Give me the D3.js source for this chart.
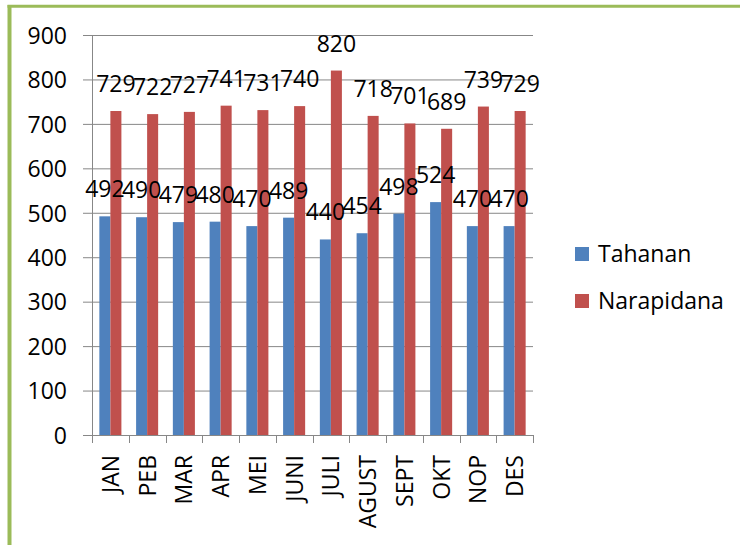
<!DOCTYPE html>
<html>
<head>
<meta charset="utf-8">
<script src="https://cdn.jsdelivr.net/npm/d3@7"></script>
<style>
  html, body { margin: 0; padding: 0; background: #fff; }
  svg { display: block; font-family: "Open Sans", "Liberation Sans", sans-serif; }
</style>
</head>
<body>
<svg id="chart" width="740" height="545"></svg>
<script>
// Monthly counts of detainees (Tahanan) and convicts (Narapidana)
const months = ["JAN", "PEB", "MAR", "APR", "MEI", "JUNI", "JULI", "AGUST", "SEPT", "OKT", "NOP", "DES"];
const tahanan = [492, 490, 479, 480, 470, 489, 440, 454, 498, 524, 470, 470];
const narapidana = [729, 722, 727, 741, 731, 740, 820, 718, 701, 689, 739, 729];
const seriesNames = ["Tahanan", "Narapidana"];
const seriesColors = ["#4f81bd", "#c0504d"];
const yTicks = [0, 100, 200, 300, 400, 500, 600, 700, 800, 900];

const svg = d3.select("#chart");
const fontSize = 23;

// Green frame along the top and left edges
svg.append("line").attr("x1", 9.5).attr("x2", 9.5).attr("y1", 5).attr("y2", 545)
  .attr("stroke", "#9bbb59").attr("stroke-width", 4);
svg.append("line").attr("x1", 7.5).attr("x2", 740).attr("y1", 6.3).attr("y2", 6.3)
  .attr("stroke", "#9bbb59").attr("stroke-width", 3);

const plot = { left: 92, right: 533, top: 35, bottom: 435 };

const y = d3.scaleLinear().domain([0, 900]).range([plot.bottom, plot.top]);
const x0 = d3.scaleBand().domain(months).range([plot.left, plot.right])
  .paddingInner(0.4).paddingOuter(0.2);
const x1 = d3.scaleBand().domain(seriesNames).range([0, x0.bandwidth()]).padding(0);

const gridColor = "#878787";

// Horizontal gridlines with short ticks on the left
const yAxis = d3.axisLeft(y).tickValues(yTicks).tickSize(-(plot.right - plot.left)).tickPadding(25)
  .tickFormat(d3.format("d"));
const gy = svg.append("g").attr("transform", `translate(${plot.left},0)`).call(yAxis);
gy.select(".domain").remove();
gy.selectAll(".tick line").attr("stroke", gridColor).attr("x1", -9);
gy.selectAll(".tick text").attr("font-size", fontSize).attr("fill", "#000")
  .attr("font-family", "Open Sans, sans-serif").attr("dy", "0.36em");

// Vertical axis line
svg.append("line").attr("x1", plot.left + 0.5).attr("x2", plot.left + 0.5)
  .attr("y1", plot.top).attr("y2", plot.bottom + 0.5).attr("stroke", gridColor);

// Bars
const rows = months.map((m, i) => ({ month: m, values: [tahanan[i], narapidana[i]] }));
const groups = svg.append("g").selectAll("g").data(rows).join("g")
  .attr("transform", d => `translate(${x0(d.month)},0)`);
groups.selectAll("rect").data(d => d.values.map((v, k) => ({ name: seriesNames[k], value: v, k })))
  .join("rect")
  .attr("x", d => x1(d.name))
  .attr("width", x1.bandwidth())
  .attr("y", d => y(d.value))
  .attr("height", d => y(0) - y(d.value))
  .attr("fill", d => seriesColors[d.k]);

// Category axis with ticks between months
const catTicks = d3.range(months.length + 1).map(i => plot.left + i * x0.step());
svg.append("line").attr("x1", plot.left - 9).attr("x2", plot.right)
  .attr("y1", plot.bottom + 0.5).attr("y2", plot.bottom + 0.5).attr("stroke", gridColor);
svg.append("g").selectAll("line").data(catTicks).join("line")
  .attr("x1", d => Math.round(d) + 0.5).attr("x2", d => Math.round(d) + 0.5)
  .attr("y1", plot.bottom).attr("y2", plot.bottom + 8).attr("stroke", gridColor);

svg.append("g").selectAll("text").data(months).join("text")
  .attr("transform", d => `translate(${x0(d) + x0.bandwidth() / 2 + 8.5},${plot.bottom + 20}) rotate(-90)`)
  .attr("text-anchor", "end")
  .attr("font-size", fontSize)
  .attr("fill", "#000")
  .text(d => d);

// Value labels above each bar
const labels = svg.append("g");
rows.forEach(r => {
  r.values.forEach((v, k) => {
    labels.append("text")
      .attr("x", x0(r.month) + x1(seriesNames[k]) + x1.bandwidth() / 2)
      .attr("y", y(v) - 19)
      .attr("text-anchor", "middle")
      .attr("font-size", fontSize)
      .attr("fill", "#000")
      .text(v);
  });
});

// Legend
const legend = svg.append("g").selectAll("g").data(seriesNames).join("g")
  .attr("transform", (d, i) => `translate(575,${247 + i * 47})`);
legend.append("rect").attr("width", 14).attr("height", 14).attr("fill", (d, i) => seriesColors[i]);
legend.append("text").attr("x", 23).attr("y", 15).attr("font-size", fontSize).attr("fill", "#000")
  .text(d => d);
</script>
</body>
</html>
